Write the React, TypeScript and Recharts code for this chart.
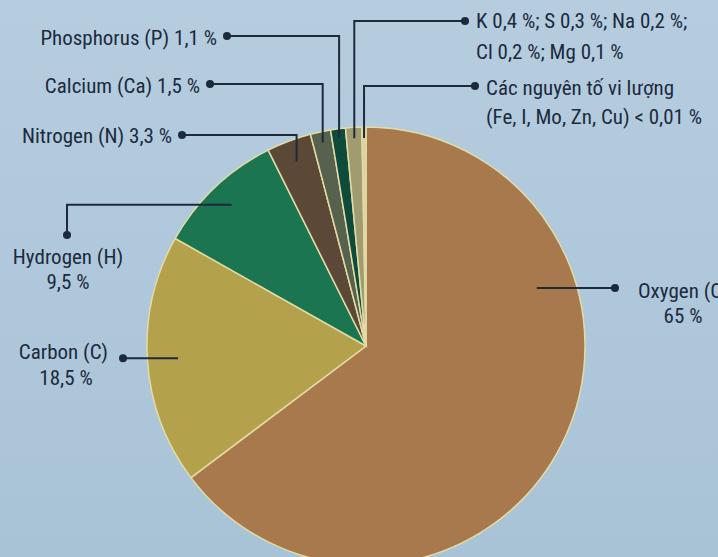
import React from "react";
import { PieChart, Pie, Cell } from "recharts";

// slices, clockwise from 12 o'clock
const elements = ["Oxygen (O)", "Carbon (C)", "Hydrogen (H)", "Nitrogen (N)", "Calcium (Ca)", "Phosphorus (P)", "K, S, Na, Cl, Mg", "Vi lượng"];
const shares = [65, 18.5, 9.5, 3.3, 1.5, 1.1, 1.2, 0.3]; // last one: drawn width of the trace sliver (< 0,01 %)
const minorSymbols = ["K", "S", "Na", "Cl", "Mg"];
const minorShares = [0.4, 0.3, 0.2, 0.2, 0.1];
const traceSymbols = ["Fe", "I", "Mo", "Zn", "Cu"];
const traceText = "Các nguyên tố vi lượng";
const traceLimit = 0.01;

const colors = ["#a7794d", "#b4a14c", "#1b7551", "#5b4836", "#56624d", "#0f4b3b", "#a09c70", "#d8d29c"];

const pct = (v: number) => `${String(v).replace(".", ",")} %`;

const data = elements.map((name, i) => ({ name, value: shares[i] }));

const textLines: string[][] = [
  [elements[0], pct(shares[0])],
  [elements[1], pct(shares[1])],
  [elements[2], pct(shares[2])],
  [`${elements[3]} ${pct(shares[3])}`],
  [`${elements[4]} ${pct(shares[4])}`],
  [`${elements[5]} ${pct(shares[5])}`],
  [
    minorSymbols.slice(0, 3).map((s, i) => `${s} ${pct(minorShares[i])}`).join("; ") + ";",
    minorSymbols.slice(3).map((s, i) => `${s} ${pct(minorShares[i + 3])}`).join("; "),
  ],
  [traceText, `(${traceSymbols.join(", ")}) < ${String(traceLimit).replace(".", ",")} %`],
];

// leader layout: route, depth into slice, elbow/dot position, text positions
type Layout = {
  route: "flat" | "side" | "down" | "up";
  depth: number;
  fixedY?: number;
  elbowY?: number;
  dot: [number, number | null];
  text: { x: number; y: number; anchor: "start" | "middle" | "end" }[];
};

const layouts: Layout[] = [
  { route: "flat", depth: 0.78, fixedY: 288, dot: [615, 288], text: [{ x: 638, y: 291, anchor: "start" }, { x: 683, y: 316, anchor: "middle" }] },
  { route: "side", depth: 0.86, dot: [123, null], text: [{ x: 108, y: 352, anchor: "end" }, { x: 66, y: 378, anchor: "middle" }] },
  { route: "down", depth: 0.89, dot: [67, 235], text: [{ x: 68, y: 257, anchor: "middle" }, { x: 68, y: 282, anchor: "middle" }] },
  { route: "up", depth: 0.9, elbowY: 135, dot: [182, 135], text: [{ x: 172, y: 136, anchor: "end" }] },
  { route: "up", depth: 0.95, elbowY: 84, dot: [210, 84], text: [{ x: 200, y: 86, anchor: "end" }] },
  { route: "up", depth: 0.96, elbowY: 36, dot: [227, 36], text: [{ x: 217, y: 38, anchor: "end" }] },
  { route: "up", depth: 0.95, elbowY: 21, dot: [465, 21], text: [{ x: 476, y: 21, anchor: "start" }, { x: 476, y: 52, anchor: "start" }] },
  { route: "up", depth: 0.95, elbowY: 86, dot: [475, 86], text: [{ x: 486, y: 88, anchor: "start" }, { x: 486, y: 117, anchor: "start" }] },
];

const RAD = Math.PI / 180;
const INK = "#1c2a3d";
const FONT = "'Liberation Sans Narrow', 'Roboto Condensed', 'DejaVu Sans Condensed', sans-serif";

function LeaderLabel(props: any) {
  const { cx, cy, midAngle, outerRadius, index } = props;
  const lay = layouts[index];
  if (!lay) return null;
  const r = outerRadius * lay.depth;
  let sx = cx + r * Math.cos(-midAngle * RAD);
  let sy = cy + r * Math.sin(-midAngle * RAD);
  let points: [number, number][] = [];
  let dot: [number, number];
  if (lay.route === "flat") {
    sx = cx + r;
    sy = lay.fixedY!;
    dot = [lay.dot[0], sy];
    points = [[sx, sy], dot];
  } else if (lay.route === "side") {
    dot = [lay.dot[0], sy];
    points = [[sx, sy], dot];
  } else if (lay.route === "down") {
    dot = [lay.dot[0], lay.dot[1]!];
    points = [[sx, sy], [dot[0], sy], dot];
  } else {
    dot = [lay.dot[0], lay.elbowY!];
    points = [[sx, sy], [sx, lay.elbowY!], dot];
  }
  const lines = textLines[index];
  return (
    <g key={`lbl-${index}`}>
      <polyline points={points.map((p) => p.join(",")).join(" ")} fill="none" stroke={INK} strokeWidth={2} />
      <circle cx={dot[0]} cy={dot[1]} r={4} fill={INK} />
      {lines.map((t, i) => (
        <text
          key={i}
          x={lay.text[i].x}
          y={lay.text[i].y}
          textAnchor={lay.text[i].anchor}
          dominantBaseline="central"
          fill={INK}
          fontSize={21}
          fontFamily={FONT}
        >
          {t}
        </text>
      ))}
    </g>
  );
}

export default function App() {
  return (
    <div
      style={{
        position: "fixed",
        left: 0,
        top: 0,
        width: 718,
        height: 557,
        overflow: "hidden",
        background: "linear-gradient(180deg, #b6cde0 0%, #afc7da 55%, #a9c3d6 100%)",
      }}
    >
      <PieChart width={718} height={557} margin={{ top: 0, right: 0, bottom: 0, left: 0 }}>
        <Pie
          data={data}
          dataKey="value"
          nameKey="name"
          cx={366}
          cy={346}
          outerRadius={219}
          startAngle={90}
          endAngle={-270}
          stroke="#e2dba6"
          strokeWidth={1.5}
          label={LeaderLabel}
          labelLine={false}
          isAnimationActive={false}
        >
          {data.map((d, i) => (
            <Cell key={d.name} fill={colors[i]} />
          ))}
        </Pie>
      </PieChart>
    </div>
  );
}
